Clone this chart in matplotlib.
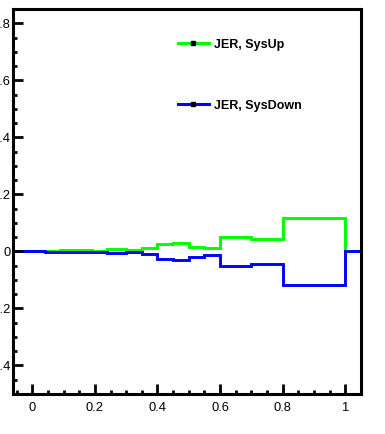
import matplotlib
matplotlib.use("Agg")
import matplotlib.pyplot as plt
from matplotlib.lines import Line2D
from matplotlib.ticker import MultipleLocator
import numpy as np

plt.rcParams['font.family'] = ['Liberation Sans', 'DejaVu Sans']

# Histogram binning and relative JER variations
bin_edges = [-0.01, 0.04, 0.09, 0.14, 0.19, 0.24, 0.30, 0.35, 0.40, 0.45,
             0.50, 0.55, 0.60, 0.70, 0.80, 1.00]
jer_up = [0.001, 0.002, 0.005, 0.004, 0.003, 0.009, 0.005, 0.012, 0.025,
          0.029, 0.016, 0.013, 0.052, 0.044, 0.118]
jer_down = [0.0, -0.002, -0.003, -0.003, -0.002, -0.007, -0.003, -0.009,
            -0.025, -0.029, -0.019, -0.014, -0.051, -0.043, -0.117]
labels = ["JER, SysUp", "JER, SysDown"]
colors = ["#00ff00", "#0000ff"]

x_range = (-0.06, 1.05)
y_range = (-0.5, 0.85)

fig = plt.figure(figsize=(3.85, 4.34), dpi=100)
ax = fig.add_axes([0.035, 0.0922, 0.9026, 0.887])

# pad with empty bins out to the frame edges
edges = np.concatenate([[x_range[0]], bin_edges, [x_range[1]]])
for vals, col in zip([jer_up, jer_down], colors):
    v = np.concatenate([[0.0], vals, [0.0]])
    ax.stairs(v, edges, baseline=None, color=col, linewidth=2.1)

ax.set_xlim(*x_range)
ax.set_ylim(*y_range)

ax.xaxis.set_major_locator(MultipleLocator(0.2))
ax.xaxis.set_minor_locator(MultipleLocator(0.05))
ax.yaxis.set_major_locator(MultipleLocator(0.2))
ax.yaxis.set_minor_locator(MultipleLocator(0.05))
ax.xaxis.set_major_formatter(plt.FuncFormatter(lambda v, p: f"{v:g}"))
ax.yaxis.set_major_formatter(plt.FuncFormatter(lambda v, p: f"{v:g}" if abs(v) > 1e-9 else "0"))

ax.tick_params(which='both', direction='in', top=False, right=False,
               labelsize=9.3, width=2.0, color='black')
ax.tick_params(which='major', length=7)
ax.tick_params(which='minor', length=3)
ax.tick_params(axis='y', pad=2.3)
ax.tick_params(axis='x', pad=5.5)

for sp in ax.spines.values():
    sp.set_linewidth(2.2)

handles = [Line2D([], [], color=c, linewidth=2.2, marker='s', markersize=2.2,
                  markerfacecolor='black', markeredgecolor='black')
           for c in colors]
ax.legend(handles, labels, loc='upper left', bbox_to_anchor=(0.456, 0.939),
          frameon=False, borderpad=0, handlelength=2.45, handletextpad=0.45,
          labelspacing=3.92, prop={'weight': 'bold', 'size': 9})

fig.savefig("out.png", dpi=100)
